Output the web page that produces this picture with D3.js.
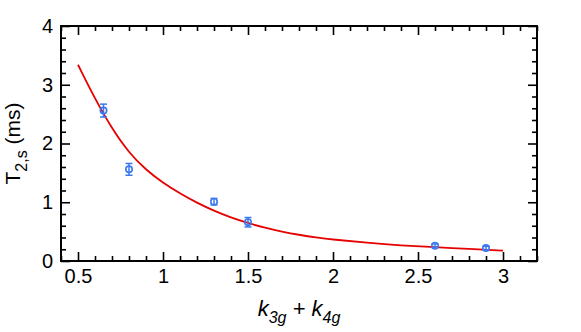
<!DOCTYPE html>
<meta charset="utf-8">
<script src="https://d3js.org/d3.v7.min.js"></script>
<div id="my_dataviz"></div>
<style>
  body { margin: 0; background: #fff; }
  text { font-family: "Liberation Sans", Arial, Helvetica, sans-serif; }
</style>
<script>
// measured points (x = k3g + k4g, y = T2,s in ms)
var kSum   = [0.65, 0.8, 1.3, 1.5, 2.6, 2.9];
var t2s    = [2.56, 1.56, 1.01, 0.66, 0.26, 0.22];
var t2sErr = [0.11, 0.10, 0.055, 0.08, 0.03, 0.03];

// fitted curve
var fitX = [0.5, 0.6, 0.7, 0.8, 0.9, 1.0, 1.1, 1.2, 1.3, 1.4, 1.5, 1.6, 1.7, 1.8, 1.9, 2.0, 2.2, 2.4, 2.6, 2.8, 3.0];
var fitY = [3.34, 2.76, 2.25, 1.84, 1.55, 1.33, 1.15, 0.99, 0.855, 0.74, 0.645, 0.565, 0.50, 0.445, 0.40, 0.365, 0.31, 0.265, 0.235, 0.205, 0.175];

var xTicks = [0.5, 1, 1.5, 2, 2.5, 3];
var yTicks = [0, 1, 2, 3, 4];

var margin = {top: 26, right: 44, bottom: 71, left: 61},
    width = 581 - margin.left - margin.right,
    height = 332 - margin.top - margin.bottom;

var svg = d3.select("#my_dataviz")
  .append("svg")
    .attr("width", 581)
    .attr("height", 332)
  .append("g")
    .attr("transform", "translate(" + margin.left + "," + margin.top + ")");

var x = d3.scaleLinear().domain([0.4, 3.2]).range([0, width]);
var y = d3.scaleLinear().domain([0, 4]).range([height, 0]);

var xMinor = d3.range(4, 33).map(function(d) { return d / 10; })
  .filter(function(d) { return Math.abs(d * 2 - Math.round(d * 2)) > 1e-6; });
var yMinor = d3.range(0, 21).map(function(d) { return d / 5; })
  .filter(function(d) { return Math.abs(d - Math.round(d)) > 1e-6; });

function styleAxis(g) {
  g.select(".domain").remove();
  g.selectAll("line").attr("stroke", "#000").attr("stroke-width", 1.6);
  g.selectAll("text").attr("fill", "#000").style("font-size", "20px");
}

// bottom
svg.append("g").attr("transform", "translate(0," + height + ")")
  .call(d3.axisBottom(x).tickValues(xTicks).tickSizeInner(-9).tickSizeOuter(0).tickPadding(8)
    .tickFormat(d3.format("")))
  .call(styleAxis);
svg.append("g").attr("transform", "translate(0," + height + ")")
  .call(d3.axisBottom(x).tickValues(xMinor).tickSizeInner(-5).tickSizeOuter(0).tickFormat(""))
  .call(styleAxis);
// top
svg.append("g")
  .call(d3.axisTop(x).tickValues(xTicks).tickSizeInner(-9).tickSizeOuter(0).tickFormat(""))
  .call(styleAxis);
svg.append("g")
  .call(d3.axisTop(x).tickValues(xMinor).tickSizeInner(-5).tickSizeOuter(0).tickFormat(""))
  .call(styleAxis);
// left
svg.append("g")
  .call(d3.axisLeft(y).tickValues(yTicks).tickSizeInner(-9).tickSizeOuter(0).tickPadding(8)
    .tickFormat(d3.format("d")))
  .call(styleAxis);
svg.append("g")
  .call(d3.axisLeft(y).tickValues(yMinor).tickSizeInner(-5).tickSizeOuter(0).tickFormat(""))
  .call(styleAxis);
// right
svg.append("g").attr("transform", "translate(" + width + ",0)")
  .call(d3.axisRight(y).tickValues(yTicks).tickSizeInner(-9).tickSizeOuter(0).tickFormat(""))
  .call(styleAxis);
svg.append("g").attr("transform", "translate(" + width + ",0)")
  .call(d3.axisRight(y).tickValues(yMinor).tickSizeInner(-5).tickSizeOuter(0).tickFormat(""))
  .call(styleAxis);

// frame
svg.append("rect")
  .attr("width", width).attr("height", height)
  .attr("fill", "none").attr("stroke", "#000").attr("stroke-width", 2);

// fit curve
var fit = fitX.map(function(d, i) { return [d, fitY[i]]; });
svg.append("path")
  .datum(fit)
  .attr("fill", "none")
  .attr("stroke", "#e60000")
  .attr("stroke-width", 1.8)
  .attr("d", d3.line()
    .curve(d3.curveBasis)
    .x(function(d) { return x(d[0]); })
    .y(function(d) { return y(d[1]); }));

// data points with error bars
var pts = kSum.map(function(d, i) { return {k: d, t: t2s[i], e: t2sErr[i]}; });
var blue = "#3a78f0";
var pg = svg.selectAll(".pt").data(pts).enter().append("g").attr("class", "pt");
pg.append("line")
  .attr("x1", function(d) { return x(d.k); }).attr("x2", function(d) { return x(d.k); })
  .attr("y1", function(d) { return y(d.t - d.e); }).attr("y2", function(d) { return y(d.t + d.e); })
  .attr("stroke", blue).attr("stroke-width", 1.5);
[-1, 1].forEach(function(s) {
  pg.append("line")
    .attr("x1", function(d) { return x(d.k) - 3.5; }).attr("x2", function(d) { return x(d.k) + 3.5; })
    .attr("y1", function(d) { return y(d.t + s * d.e); }).attr("y2", function(d) { return y(d.t + s * d.e); })
    .attr("stroke", blue).attr("stroke-width", 1.5);
});
pg.append("circle")
  .attr("cx", function(d) { return x(d.k); })
  .attr("cy", function(d) { return y(d.t); })
  .attr("r", 3.2)
  .attr("fill", "none")
  .attr("stroke", blue)
  .attr("stroke-width", 1.6);

// axis titles
var xl = svg.append("text")
  .attr("x", width / 2).attr("y", height + 55)
  .attr("text-anchor", "middle")
  .style("font-size", "22px").style("font-style", "italic");
xl.append("tspan").text("k");
xl.append("tspan").attr("dy", 7).style("font-size", "16px").text("3g");
xl.append("tspan").attr("dy", -7).text(" + k");
xl.append("tspan").attr("dy", 7).style("font-size", "16px").text("4g");

var yl = svg.append("text")
  .attr("transform", "translate(" + (-41) + "," + (height / 2) + ")rotate(-90)")
  .attr("text-anchor", "middle")
  .style("font-size", "21px");
yl.append("tspan").text("T");
yl.append("tspan").attr("dy", 7).style("font-size", "16px").text("2,s");
yl.append("tspan").attr("dy", -7).text(" (ms)");
</script>
